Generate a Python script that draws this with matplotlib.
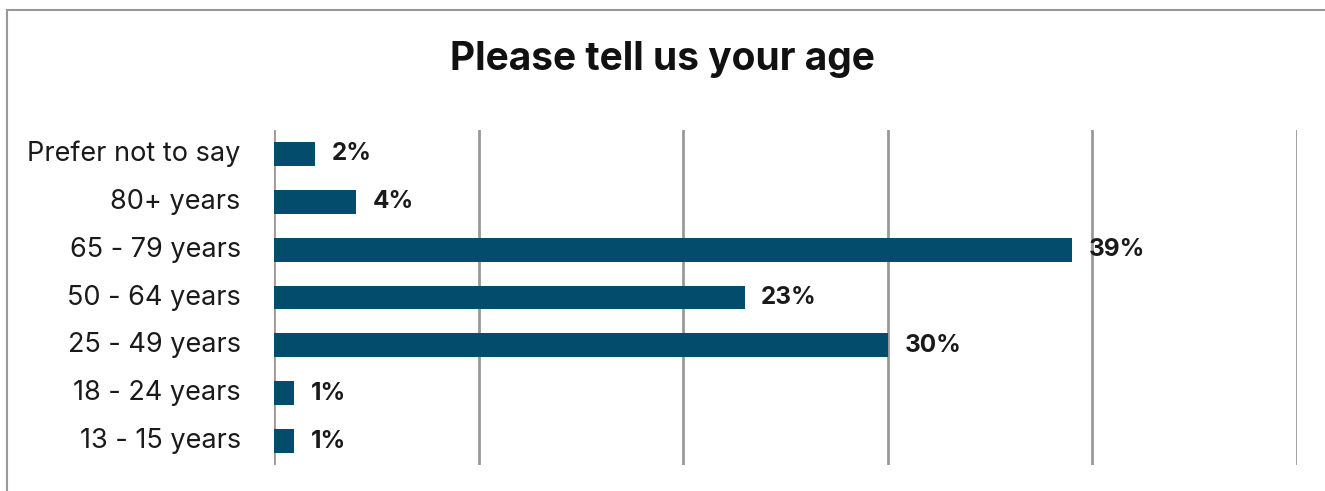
import matplotlib.pyplot as plt
from matplotlib.patches import Rectangle

plt.rcParams['font.family'] = ['Inter', 'DejaVu Sans']

categories = ['Prefer not to say', '80+ years', '65 - 79 years', '50 - 64 years',
              '25 - 49 years', '18 - 24 years', '13 - 15 years']
values = [2, 4, 39, 23, 30, 1, 1]

bar_color = '#034C6B'
grid_color = '#999999'

fig = plt.figure(figsize=(13.25, 4.91), dpi=100)
ax = fig.add_axes([274 / 1325, 1 - 465 / 491, (1297 - 274) / 1325, (465 - 130) / 491])

pos = list(range(len(categories)))
ax.barh(pos, values, height=0.5, color=bar_color, zorder=3)
ax.set_ylim(len(categories) - 0.5, -0.5)
ax.set_xlim(0, 50)

ax.set_yticks(pos)
ax.set_yticklabels(categories, fontsize=19.5, color='#1a1a1a', va='center')
ax.tick_params(axis='y', length=0, pad=24)
ax.set_xticks([0, 10, 20, 30, 40, 50])
ax.tick_params(axis='x', length=0, labelbottom=False)
ax.xaxis.grid(True, color=grid_color, linewidth=2)
ax.set_axisbelow(True)
for s in ax.spines.values():
    s.set_visible(False)

# percentage labels at the end of each bar
for p, v in zip(pos, values):
    ax.annotate(f'{v}%', (v, p), xytext=(12, 0), textcoords='offset points',
                ha='left', va='center', fontsize=17.5, fontweight='bold', color='#1a1a1a')

fig.text(0.5, 1 - 60 / 491, 'Please tell us your age', ha='center', va='center',
         fontsize=28, fontweight='bold', color='#111111')

# outer frame (left and top edges visible)
fig.patches.append(Rectangle((7 / 1325, -0.1), 1.2, 1 - 10 / 491 + 0.1,
                             transform=fig.transFigure, fill=False,
                             edgecolor='#999999', linewidth=1.5))

fig.savefig('out.png', dpi=100)
